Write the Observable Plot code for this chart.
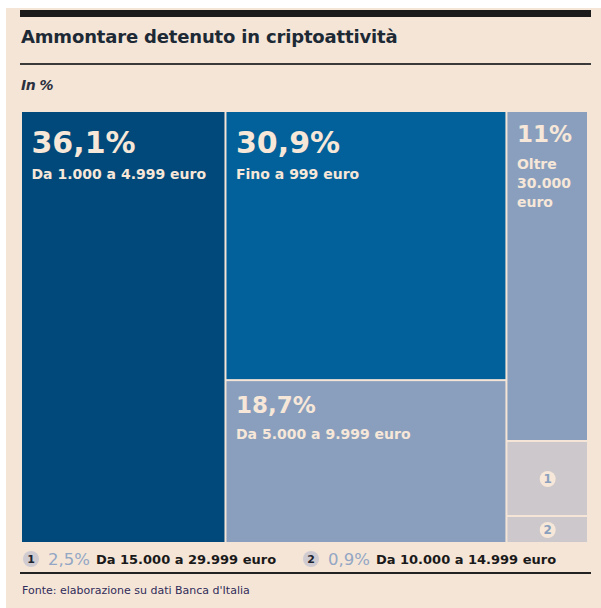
<!DOCTYPE html>
<html><head><meta charset="utf-8">
<script src="https://cdn.jsdelivr.net/npm/d3@7"></script>
<script src="https://cdn.jsdelivr.net/npm/@observablehq/plot@0.6"></script>
<style>
body{margin:0;background:#fff;width:601px;height:608px;position:relative;overflow:hidden;font-family:"DejaVu Sans",sans-serif;}
#card{position:absolute;left:6px;top:8px;width:595px;height:600px;background:#f5e5d7;}
.abs{position:absolute;}
#bar{left:20px;top:10px;width:571px;height:7px;background:#1b1b1b;}
#title{left:21px;top:28px;font-size:18px;line-height:18px;font-weight:bold;color:#1d2a35;white-space:nowrap;letter-spacing:-0.17px;}
#rule1{left:20px;top:63px;width:571px;height:2px;background:#3a3a3a;}
#unit{left:21px;top:78px;font-size:14px;line-height:14px;font-weight:bold;font-style:italic;color:#2b3140;letter-spacing:-0.5px;}
#chart{left:21px;top:111px;}
.item{position:absolute;top:549px;height:20px;display:flex;align-items:center;white-space:nowrap;}
.circ{width:16px;height:16px;border-radius:50%;background:#cfcbd0;color:#1e2430;font-weight:bold;font-size:11px;display:flex;align-items:center;justify-content:center;}
.pct{font-size:16.5px;color:#93a7c4;margin-left:9px;}
.lab{font-size:13px;font-weight:bold;color:#1a1a1a;margin-left:6px;}
#rule2{left:20px;top:572px;width:571px;height:2px;background:#222;}
#source{left:22px;top:585px;font-size:11px;line-height:11px;color:#302c5a;white-space:nowrap;}
</style></head>
<body>
<div id="card"></div>
<div id="bar" class="abs"></div>
<div id="title" class="abs">Ammontare detenuto in criptoattività</div>
<div id="rule1" class="abs"></div>
<div id="unit" class="abs">In %</div>
<div id="chart" class="abs"></div>
<div id="legend"></div>
<div id="rule2" class="abs"></div>
<div id="source" class="abs">Fonte: elaborazione su dati Banca d'Italia</div>
<script>
// Data
const labels = ["Da 1.000 a 4.999 euro", "Fino a 999 euro", "Da 5.000 a 9.999 euro", "Oltre 30.000 euro", "Da 15.000 a 29.999 euro", "Da 10.000 a 14.999 euro"];
const values = [36.1, 30.9, 18.7, 11, 2.5, 0.9];
const columns = [0, 1, 1, 2, 2, 2];
const markers = ["", "", "", "", "1", "2"];

// Styles
const palette = ["#01497a", "#02609a", "#8a9fbd", "#8a9fbd", "#cdc8cc", "#cdc8cc"];
const cream = "#f6e7d9";
const fmt = v => String(v).replace(".", ",") + "%";

const cells = labels.map((label, i) => ({label, value: values[i], column: columns[i], marker: markers[i]}));
const groups = d3.groups(cells, d => d.column).map(([, children]) => ({children}));
const root = d3.hierarchy({children: groups}).sum(d => d.value ?? 0);
const W = 567, H = 432;
d3.treemap().tile(d3.treemapSliceDice).size([W, H])(root);
const leaves = root.leaves().map(n => ({...n.data, x0: n.x0, x1: n.x1, y0: n.y0, y1: n.y1}));

const isWide = d => d.x1 - d.x0 > 150;
const big = leaves.filter(d => d.value >= 5 && isWide(d) && d.y1 - d.y0 > 200);
const midWide = leaves.filter(d => d.value >= 5 && isWide(d) && d.y1 - d.y0 <= 200);
const narrow = leaves.filter(d => d.value >= 5 && !isWide(d));
const small = leaves.filter(d => d.value < 5);

const common = {x: "x0", y: "y0", dx: 10, textAnchor: "start", lineAnchor: "top", fill: cream, fontWeight: "bold", fontFamily: "DejaVu Sans"};

const plot = Plot.plot({
  width: W, height: H, margin: 0,
  x: {domain: [0, W], axis: null},
  y: {domain: [0, H], reverse: true, axis: null},
  color: {domain: labels, range: palette},
  style: {background: "transparent", fontFamily: "DejaVu Sans"},
  marks: [
    Plot.rect(leaves, {x1: "x0", x2: "x1", y1: "y0", y2: "y1", fill: "label", inset: 1}),
    Plot.text(big, {...common, text: d => fmt(d.value), dy: 20, fontSize: 30}),
    Plot.text(big, {...common, text: "label", dy: 58, fontSize: 14}),
    Plot.text(midWide, {...common, text: d => fmt(d.value), dy: 16, fontSize: 23}),
    Plot.text(midWide, {...common, text: "label", dy: 48, fontSize: 14}),
    Plot.text(narrow, {...common, text: d => fmt(d.value), dy: 14, fontSize: 23}),
    Plot.text(narrow, {...common, text: "label", dy: 44, fontSize: 14, lineWidth: 4, lineHeight: 1.36}),
    Plot.dot(small, {x: d => (d.x0 + d.x1) / 2, y: d => (d.y0 + d.y1) / 2, r: 8, fill: cream}),
    Plot.text(small, {x: d => (d.x0 + d.x1) / 2, y: d => (d.y0 + d.y1) / 2, text: "marker", fill: "#8aa0bd", fontWeight: "bold", fontSize: 12, fontFamily: "DejaVu Sans"})
  ]
});
document.getElementById("chart").appendChild(plot);

// Legend for the small cells
const legend = document.getElementById("legend");
small.forEach((d, i) => {
  const item = document.createElement("div");
  item.className = "item";
  item.style.left = (23 + i * 280) + "px";
  item.innerHTML = `<span class="circ">${d.marker}</span><span class="pct">${fmt(d.value)}</span><span class="lab">${d.label}</span>`;
  legend.appendChild(item);
});
</script>
</body></html>
